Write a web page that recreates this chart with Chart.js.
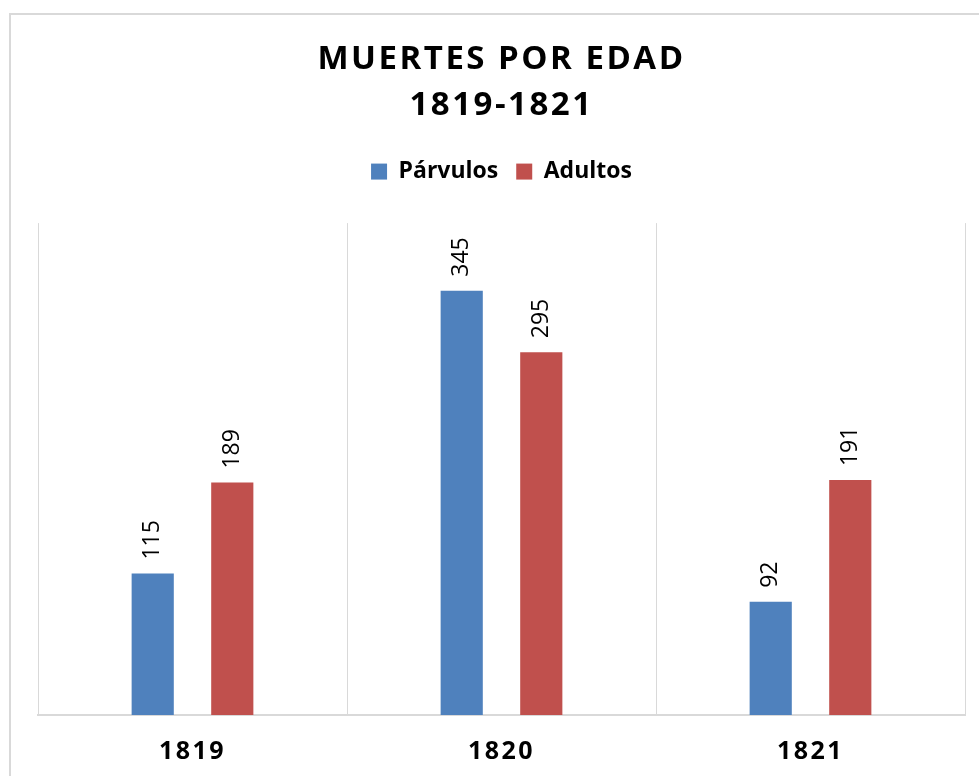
<!DOCTYPE html>
<html>
<head>
<meta charset="utf-8">
<script src="https://cdn.jsdelivr.net/npm/chart.js@4"></script>
<style>
  html, body { margin: 0; padding: 0; background: #fff; }
  #wrap { width: 979px; height: 776px; }
</style>
</head>
<body>
<div id="wrap"><canvas id="muertes-chart"></canvas></div>
<script>
const years = ['1819', '1820', '1821'];
const parvulos = [115, 345, 92];
const adultos = [189, 295, 191];

const FONT = "'Open Sans', sans-serif";
const SPACING = '2.5px';

// gray frame + letter spacing for title and year labels
const framePlugin = {
    id: 'frame',
    beforeDraw(chart) {
        const c = chart.ctx;
        c.save();
        c.strokeStyle = '#d9d9d9';
        c.lineWidth = 2;
        c.strokeRect(10, 14, 1200, 1200);
        c.restore();
        c.letterSpacing = SPACING;
    },
    beforeDatasetsDraw(chart) {
        chart.ctx.letterSpacing = '0px';
    }
};

// extra room under the legend, legend text without spacing
const legendTweak = {
    id: 'legendTweak',
    beforeInit(chart) {
        const lg = chart.legend;
        const fit = lg.fit;
        lg.fit = function () {
            fit.bind(lg)();
            this.height += 30;
        };
        const draw = lg.draw;
        lg.draw = function () {
            const c = chart.ctx;
            const prev = c.letterSpacing;
            c.letterSpacing = '0px';
            draw.bind(lg)();
            c.letterSpacing = prev;
        };
    }
};

// rotated value labels above each bar
const valueLabels = {
    id: 'valueLabels',
    afterDatasetsDraw(chart) {
        const c = chart.ctx;
        c.save();
        c.letterSpacing = '0px';
        c.font = '23px ' + FONT;
        c.fillStyle = '#000';
        c.textAlign = 'left';
        c.textBaseline = 'middle';
        chart.data.datasets.forEach((ds, i) => {
            chart.getDatasetMeta(i).data.forEach((bar, j) => {
                c.save();
                c.translate(bar.x, bar.y - 14);
                c.rotate(-Math.PI / 2);
                c.fillText(String(ds.data[j]), 0, 0);
                c.restore();
            });
        });
        c.restore();
    }
};

const ctx = document.getElementById('muertes-chart');

const chart = new Chart(ctx, {
    type: 'bar',
    data: {
        labels: years,
        datasets: [{
            label: 'Párvulos',
            data: parvulos,
            backgroundColor: '#4f81bd',
            categoryPercentage: 0.515,
            barPercentage: 0.53
        }, {
            label: 'Adultos',
            data: adultos,
            backgroundColor: '#c0504d',
            categoryPercentage: 0.515,
            barPercentage: 0.53
        }]
    },
    options: {
        responsive: true,
        maintainAspectRatio: false,
        animation: false,
        layout: {
            padding: { top: 27, left: 38, right: 14, bottom: 0 }
        },
        plugins: {
            title: {
                display: true,
                text: ['MUERTES POR EDAD', '1819-1821'],
                color: '#000',
                font: { family: FONT, size: 33, weight: 'bold', lineHeight: 1.38 },
                padding: { top: 10, bottom: 14 }
            },
            legend: {
                position: 'top',
                labels: {
                    color: '#000',
                    boxWidth: 16,
                    boxHeight: 16,
                    padding: 18,
                    font: { family: FONT, size: 23, weight: 'bold' }
                }
            },
            tooltip: { enabled: false }
        },
        scales: {
            x: {
                grid: { color: '#d9d9d9', drawTicks: false, offset: true },
                border: { color: '#d9d9d9', width: 2 },
                ticks: {
                    color: '#000',
                    padding: 22,
                    font: { family: FONT, size: 25, weight: 'bold' }
                },
                afterFit(scale) {
                    scale.height = 61;
                }
            },
            y: {
                display: false,
                min: 0,
                max: 400
            }
        }
    },
    plugins: [framePlugin, legendTweak, valueLabels]
});
</script>
</body>
</html>
